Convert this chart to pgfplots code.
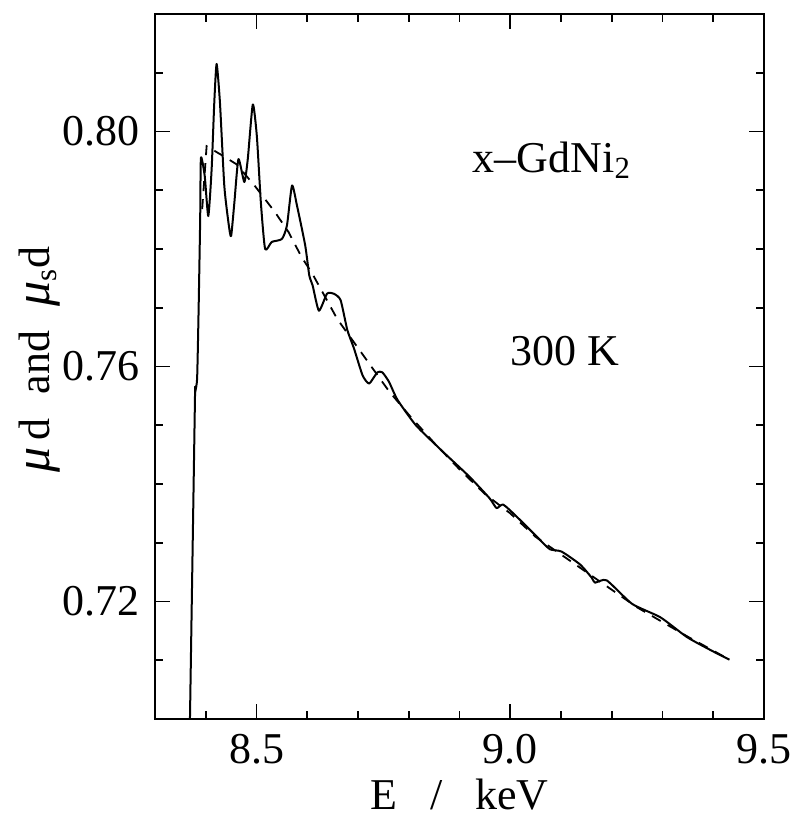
\documentclass[border=0pt]{standalone}
\usepackage{fontspec}
\setmainfont{Liberation Serif}
\usepackage{pgfplots}
\pgfplotsset{compat=1.18}
\begin{document}
\rmfamily\fontsize{22}{26}\selectfont
\begin{tikzpicture}
\begin{axis}[
  scale only axis, width=304.5pt, height=352.5pt,
  xmin=8.3, xmax=9.5, ymin=0.70, ymax=0.82,
  scaled ticks=false,
  xtick={8.5,9.0,9.5},
  minor xtick={8.4,8.6,8.7,8.8,8.9,9.1,9.2,9.3,9.4},
  ytick={0.72,0.76,0.80},
  minor ytick={0.71,0.73,0.74,0.75,0.77,0.78,0.79,0.81},
  tick align=inside, major tick length=7.5pt, minor tick length=4pt,
  axis line style={line width=1pt},
  every tick/.style={line width=0.9pt, black},
  xticklabel style={/pgf/number format/.cd, fixed, fixed zerofill, precision=1},
  yticklabel style={/pgf/number format/.cd, fixed, fixed zerofill, precision=2},
  /pgf/number format/assume math mode=true,
  tick label style={font=\rmfamily\fontsize{22}{26}\selectfont},
  label style={font=\rmfamily\fontsize{23}{27}\selectfont},
  every axis x label/.style={at={(axis description cs:0.5,0)}, yshift=-38pt, anchor=center},
  every axis y label/.style={at={(axis description cs:0,0.51)}, xshift=-57.5pt, rotate=90, anchor=center},
  xlabel={E\hspace{0.75em}/\hspace{0.75em}keV},
  ylabel={{\fontsize{25}{27}\selectfont\textit{μ}}\,d\hspace{0.55em}and\hspace{0.55em}{\fontsize{25}{27}\selectfont\textit{μ}}\textsubscript{s}d},
]
\addplot[black, line width=1pt, line join=round, smooth, tension=0.35] coordinates {
(8.3687,0.6990) (8.3786,0.7537) (8.3790,0.7555) (8.3830,0.7580) (8.3860,0.7700)
(8.3890,0.7850) (8.3905,0.7955) (8.3980,0.7924) (8.4050,0.7856) (8.4116,0.7936)
(8.4168,0.8049) (8.4214,0.8115) (8.4280,0.8049) (8.4366,0.7907) (8.4455,0.7840)
(8.4500,0.7822) (8.4564,0.7879) (8.4644,0.7953) (8.4760,0.7914) (8.4828,0.7953)
(8.4927,0.8046) (8.5007,0.7992) (8.5086,0.7879) (8.5170,0.7800) (8.5300,0.7812)
(8.5500,0.7817) (8.5600,0.7840) (8.5700,0.7908) (8.5800,0.7873) (8.5960,0.7806)
(8.6040,0.7755) (8.6106,0.7738) (8.6230,0.7695) (8.6390,0.7724) (8.6520,0.7724)
(8.6657,0.7713) (8.6790,0.7662) (8.6920,0.7631) (8.7090,0.7585) (8.7220,0.7571)
(8.7380,0.7590) (8.7480,0.7590) (8.7610,0.7574) (8.7780,0.7543) (8.8140,0.7500)
(8.8600,0.7461) (8.8770,0.7447) (8.9200,0.7412) (8.9590,0.7376) (8.9730,0.7359)
(8.9860,0.7365) (9.0120,0.7345) (9.0550,0.7308) (9.0780,0.7289) (9.1010,0.7285)
(9.1376,0.7263) (9.1610,0.7240) (9.1670,0.7232) (9.1900,0.7236) (9.2400,0.7196)
(9.2960,0.7173) (9.3490,0.7139) (9.4020,0.7114) (9.4320,0.7101)
};
\addplot[black, line width=0.9pt, dash pattern=on 5pt off 4pt] coordinates {
(8.3930,0.7868) (8.4017,0.7975) (8.4350,0.7958) (8.4610,0.7944) (8.4970,0.7907)
(8.5140,0.7888) (8.5370,0.7862) (8.5630,0.7829) (8.5890,0.7786) (8.6100,0.7758)
(8.6590,0.7681) (8.7220,0.7605) (8.7610,0.7558) (8.8000,0.7518) (8.8500,0.7470)
(8.9000,0.7425) (8.9500,0.7383) (9.0000,0.7350) (9.0500,0.7310) (9.1000,0.7280)
(9.1500,0.7250) (9.2000,0.7220) (9.2500,0.7190) (9.3000,0.7165) (9.3500,0.7140)
(9.4300,0.7102)
};
\node[anchor=base] at (axis cs:9.082,0.7931) {x–GdNi\textsubscript{2}};
\node[anchor=base] at (axis cs:9.108,0.7602) {300 K};
\end{axis}
\pgfresetboundingbox
\path ([shift={(-77.5pt,-49.5pt)}]current axis.south west) rectangle ([shift={(318.5pt,359.5pt)}]current axis.south west);
\end{tikzpicture}
\end{document}
